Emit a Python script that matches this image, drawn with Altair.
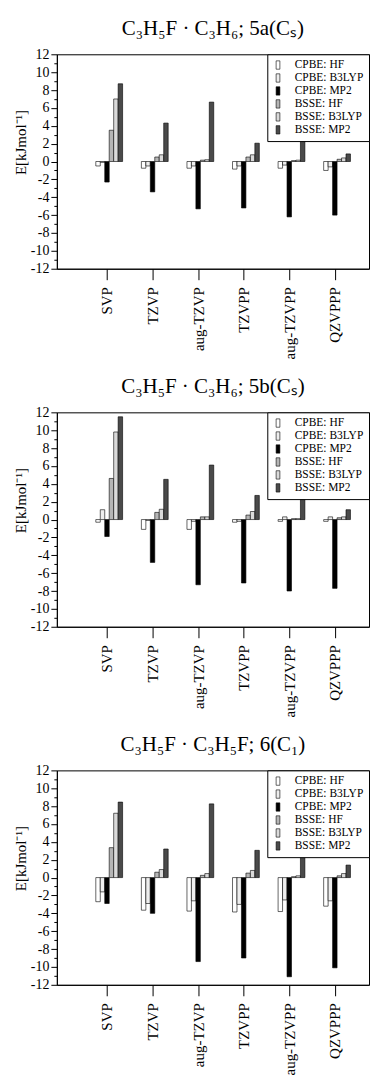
import altair as alt
import pandas as pd

categories = ["SVP", "TZVP", "aug-TZVP", "TZVPP", "aug-TZVPP", "QZVPPP"]
series = ["CPBE: HF", "CPBE: B3LYP", "CPBE: MP2", "BSSE: HF", "BSSE: B3LYP", "BSSE: MP2"]
fills = ["#ffffff", "#eeeeee", "#000000", "#b5b5b5", "#dadada", "#4a4a4a"]

titles = [
    "C₃H₅F · C₃H₆; 5a(Cₛ)",
    "C₃H₅F · C₃H₆; 5b(Cₛ)",
    "C₃H₅F · C₃H₅F; 6(C₁)",
]

# values per series, in category order
p5a_cpbe_hf = [-0.5, -0.75, -0.75, -0.85, -0.75, -1.0]
p5a_cpbe_b3lyp = [-0.1, -0.5, -0.5, -0.5, -0.4, -0.6]
p5a_cpbe_mp2 = [-2.3, -3.4, -5.3, -5.2, -6.2, -6.0]
p5a_bsse_hf = [3.5, 0.5, 0.15, 0.5, 0.1, 0.25]
p5a_bsse_b3lyp = [7.0, 0.75, 0.2, 0.75, 0.15, 0.4]
p5a_bsse_mp2 = [8.7, 4.3, 6.65, 2.05, 2.6, 0.85]

p5b_cpbe_hf = [-0.3, -1.1, -1.1, -0.3, -0.2, -0.2]
p5b_cpbe_b3lyp = [1.1, -0.1, -0.2, -0.2, 0.3, 0.3]
p5b_cpbe_mp2 = [-1.9, -4.8, -7.3, -7.1, -8.0, -7.7]
p5b_bsse_hf = [4.6, 0.8, 0.3, 0.5, 0.1, 0.2]
p5b_bsse_b3lyp = [9.8, 1.15, 0.3, 0.9, 0.1, 0.3]
p5b_bsse_mp2 = [11.5, 4.5, 6.1, 2.7, 3.0, 1.1]

p6_cpbe_hf = [-2.7, -3.65, -3.75, -3.85, -3.8, -3.2]
p6_cpbe_b3lyp = [-1.6, -2.9, -2.6, -3.0, -2.5, -2.6]
p6_cpbe_mp2 = [-2.9, -4.0, -9.4, -9.0, -11.1, -10.1]
p6_bsse_hf = [3.35, 0.6, 0.25, 0.5, 0.1, 0.2]
p6_bsse_b3lyp = [7.2, 0.9, 0.45, 0.8, 0.2, 0.45]
p6_bsse_mp2 = [8.45, 3.2, 8.25, 3.05, 2.75, 1.4]

panel_values = [
    [p5a_cpbe_hf, p5a_cpbe_b3lyp, p5a_cpbe_mp2, p5a_bsse_hf, p5a_bsse_b3lyp, p5a_bsse_mp2],
    [p5b_cpbe_hf, p5b_cpbe_b3lyp, p5b_cpbe_mp2, p5b_bsse_hf, p5b_bsse_b3lyp, p5b_bsse_mp2],
    [p6_cpbe_hf, p6_cpbe_b3lyp, p6_cpbe_mp2, p6_bsse_hf, p6_bsse_b3lyp, p6_bsse_mp2],
]

FONT = "Liberation Serif"
BW = 0.098
label_array = "[" + ",".join("'" + c + "'" for c in categories) + "]"


def make_panel(title, vals):
    rows = []
    for k, s in enumerate(series):
        for i, c in enumerate(categories):
            rows.append({"series": s, "k": k, "idx": i + 1, "cat": c, "value": vals[k][i]})
    df = pd.DataFrame(rows)
    return (
        alt.Chart(df)
        .transform_calculate(
            xa=f"datum.idx + (datum.k - 2.5) * {BW}",
            xb=f"datum.idx + (datum.k - 1.5) * {BW}",
        )
        .mark_bar(stroke="black", strokeWidth=0.6)
        .encode(
            x=alt.X(
                "xa:Q",
                scale=alt.Scale(domain=[-0.1, 6.75], nice=False, zero=False),
                axis=alt.Axis(
                    values=[1, 2, 3, 4, 5, 6],
                    labelExpr=f"{label_array}[datum.value - 1]",
                    labelAngle=270,
                    labelAlign="right",
                    labelBaseline="middle",
                    labelFont=FONT,
                    labelFontSize=15,
                    labelPadding=7,
                    tickSize=11,
                    grid=False,
                    title=None,
                ),
            ),
            x2="xb:Q",
            y=alt.Y(
                "value:Q",
                scale=alt.Scale(domain=[-12, 12], nice=False),
                axis=alt.Axis(
                    values=list(range(-12, 13)),
                    labelExpr="datum.value % 2 === 0 ? '' + datum.value : ''",
                    tickSize={"condition": {"test": "datum.value % 2 !== 0", "value": 3}, "value": 6},
                    labelFont=FONT,
                    labelFontSize=14,
                    labelPadding=2,
                    grid=False,
                    title="E[kJmol⁻¹]",
                    titleFont=FONT,
                    titleFontSize=15,
                    titleFontWeight="normal",
                    titleAngle=270,
                    titleX=-36,
                    titleY=88,
                    titleBaseline="middle",
                    titleAlign="center",
                ),
            ),
            y2=alt.datum(0),
            color=alt.Color(
                "series:N",
                scale=alt.Scale(domain=series, range=fills),
                legend=alt.Legend(
                    title=None,
                    orient="top-right",
                    offset=0,
                    strokeColor="black",
                    fillColor="white",
                    padding=5,
                    labelFont=FONT,
                    labelFontSize=11.5,
                    labelColor="black",
                    labelOffset=11,
                    labelLimit=200,
                    symbolType="M-0.45,-1H0.45V1H-0.45Z",
                    symbolSize=70,
                    symbolStrokeColor="black",
                    symbolStrokeWidth=0.6,
                    rowPadding=0,
                ),
            ),
        )
        .properties(
            width=313,
            height=215,
            title=alt.TitleParams(
                text=title,
                font=FONT,
                fontSize=21,
                fontWeight="normal",
                offset=8,
                anchor="middle",
                color="black",
            ),
        )
    )


panels = [make_panel(t, v) for t, v in zip(titles, panel_values)]

chart = (
    alt.vconcat(*panels, spacing=16)
    .resolve_scale(color="independent")
    .configure_view(stroke="black", strokeWidth=1)
    .configure_axis(domainColor="black", tickColor="black", labelColor="black", titleColor="black")
    .properties(padding={"left": 13, "top": 16, "right": 3, "bottom": 0}, background="white")
)

chart.save("out.html", embed_options={"renderer": "svg", "actions": False})
